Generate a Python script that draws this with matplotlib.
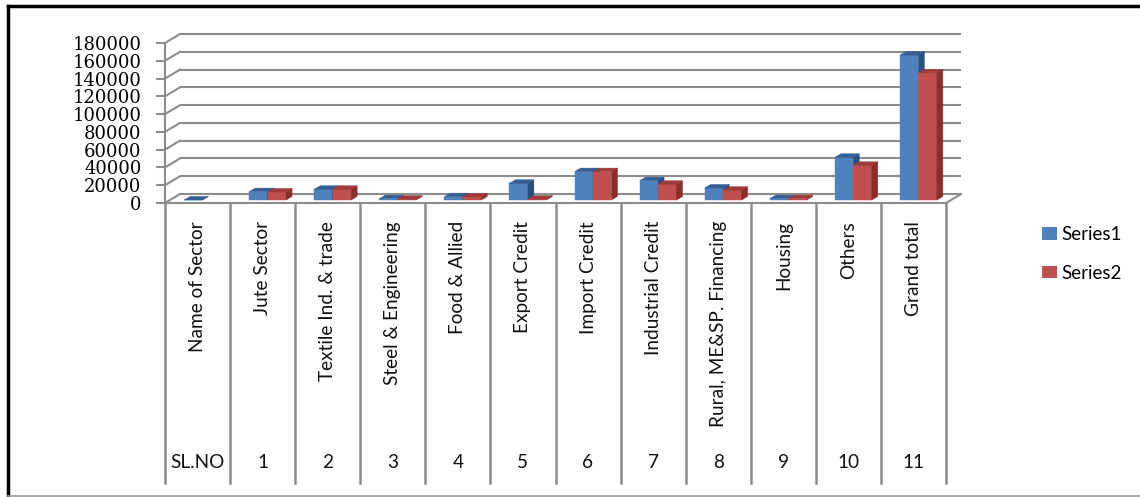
import matplotlib
matplotlib.use('agg')
import matplotlib.pyplot as plt
from matplotlib.patches import Polygon
from matplotlib.lines import Line2D

# sector labels (table row 1) and serial numbers (table row 2)
sectors = ["Name of Sector", "Jute Sector", "Textile Ind. & trade", "Steel & Engineering",
           "Food & Allied", "Export Credit", "Import Credit", "Industrial Credit",
           "Rural, ME&SP. Financing", "Housing", "Others", "Grand total"]
sl_no = ["SL.NO", "1", "2", "3", "4", "5", "6", "7", "8", "9", "10", "11"]

series1 = [0, 9400, 12000, 1500, 3700, 18800, 31900, 21700, 13500, 1500, 48000, 163000]
series2 = [None, 9000, 12000, 1000, 3500, 1000, 31900, 17600, 11000, 1500, 39000, 143000]

yticks = list(range(0, 180001, 20000))

W, H = 1140, 497
fig = plt.figure(figsize=(W / 100, H / 100), dpi=100)
plt.rcParams['font.family'] = ['Lato', 'DejaVu Sans']

# front plane of the 3-D box, in pixels
x_left, x_right, y_zero, y_top = 165, 946, 203, 43
ax = fig.add_axes([x_left / W, 1 - y_zero / H, (x_right - x_left) / W, (y_zero - y_top) / H])
n = len(sectors)
ax.set_xlim(-0.5, n - 0.5)
ax.set_ylim(0, 180000)

# depth of the box in data units (15 px right, 9 px up)
DX = 15 / (x_right - x_left) * n
DY = 9 / (y_zero - y_top) * 180000
grid_c = '#8c8c8c'

# back wall gridlines + left wall diagonals
for v in yticks:
    ax.plot([-0.5 + DX, n - 0.5 + DX], [v + DY, v + DY], color=grid_c, lw=1.5,
            clip_on=False, zorder=1, solid_capstyle='butt')
    ax.plot([-0.5, -0.5 + DX], [v, v + DY], color=grid_c, lw=1.5, clip_on=False, zorder=1)
# floor front edge and right edge
ax.plot([-0.5, n - 0.5, n - 0.5 + DX], [0, 0, DY], color=grid_c, lw=1.5, clip_on=False, zorder=1)

# 3-D bars
f0, f1 = 0.33, 0.73
bw = 0.284
palette = [('#4F81BD', '#355E95', '#2B4F7E'), ('#C0504D', '#9E3C39', '#8A2E2B')]


def draw_bar(x0, v, cols):
    front, top, side = cols
    x1 = x0 + bw
    a, b = f0 * DX, f1 * DX
    c, d = f0 * DY, f1 * DY
    faces = [
        ([(x0 + a, c), (x1 + a, c), (x1 + a, v + c), (x0 + a, v + c)], front),
        ([(x0 + a, v + c), (x1 + a, v + c), (x1 + b, v + d), (x0 + b, v + d)], top),
        ([(x1 + a, c), (x1 + b, d), (x1 + b, v + d), (x1 + a, v + c)], side),
    ]
    for pts, col in faces:
        ax.add_patch(Polygon(pts, closed=True, facecolor=col, edgecolor=col, lw=0.3,
                             clip_on=False, zorder=3))


for i in range(n):
    for k, vals in enumerate([series1, series2]):
        if vals[i] is None:
            continue
        draw_bar(i - bw + k * bw, vals[i], palette[k])

# y axis on the front plane
for s in ['top', 'right', 'bottom']:
    ax.spines[s].set_visible(False)
ax.spines['left'].set_color(grid_c)
ax.spines['left'].set_linewidth(1.5)
ax.set_xticks([])
ax.set_yticks(yticks)
ax.set_yticklabels([str(v) for v in yticks], family='DejaVu Serif', fontsize=13)
ax.tick_params(axis='y', length=6.5, width=1.5, color=grid_c, pad=10.5)
ax.patch.set_visible(False)

# data table under the floor
tr = ax.get_xaxis_transform()
table_bottom = -(483 - y_zero) / (y_zero - y_top)
for i in range(n + 1):
    ax.add_line(Line2D([i - 0.5, i - 0.5], [0, table_bottom], transform=tr, color=grid_c,
                       lw=1.8, clip_on=False))
label_top = -(221 - y_zero) / (y_zero - y_top)
num_y = -(462 - y_zero) / (y_zero - y_top)
for i in range(n):
    ax.text(i, label_top, sectors[i], rotation=90, ha='center', va='top', transform=tr,
            fontsize=13.7, color='#111111')
    ax.text(i, num_y, sl_no[i], ha='center', va='center', transform=tr,
            fontsize=13.7, color='#111111')

# legend
handles = [Polygon([(0, 0)], facecolor=palette[0][0]), Polygon([(0, 0)], facecolor=palette[1][0])]
fig.legend(handles, ['Series1', 'Series2'], loc='center left',
           bbox_to_anchor=(1025 / W, 1 - 254 / H), frameon=False, fontsize=13.5,
           handlelength=0.8, handleheight=0.65, handletextpad=0.25, labelspacing=1.15)

# chart frame
fig.add_artist(Line2D([8 / W, 8 / W], [1 - 496 / H, 1 - 6 / H], color='black', lw=2.5))
fig.add_artist(Line2D([8 / W, 1], [1 - 6 / H, 1 - 6 / H], color='black', lw=2.5))
fig.add_artist(Line2D([8 / W, 1], [1 - 496 / H, 1 - 496 / H], color='#9a9a9a', lw=1.2))

fig.savefig('out.png', dpi=100)
